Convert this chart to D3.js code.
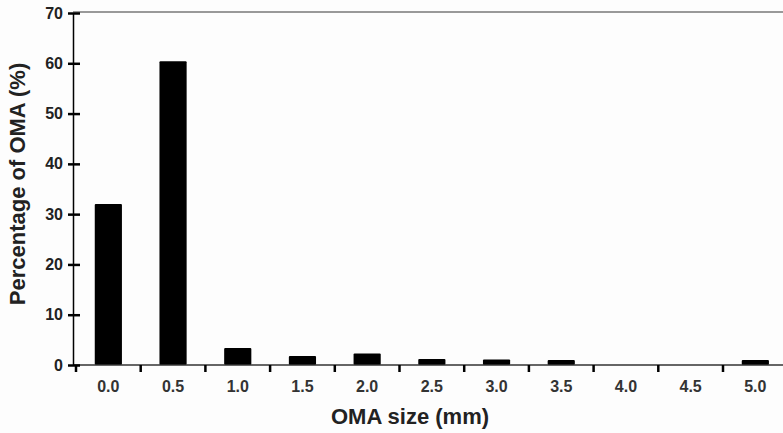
<!DOCTYPE html>
<html>
<head>
<meta charset="utf-8">
<script src="https://cdn.jsdelivr.net/npm/d3@7"></script>
<style>
  body { margin: 0; background: #fdfdfd; }
  svg { display: block; font-family: 'Liberation Sans', Arial, sans-serif; }
</style>
</head>
<body>
<svg id="chart" width="783" height="433"></svg>
<script>
// OMA size bins (mm) and share of OMA (%)
const sizes = ['0.0', '0.5', '1.0', '1.5', '2.0', '2.5', '3.0', '3.5', '4.0', '4.5', '5.0'];
const percents = [32.0, 60.4, 3.4, 1.8, 2.3, 1.2, 1.1, 1.0, 0, 0, 1.0];
const yTicks = [0, 10, 20, 30, 40, 50, 60, 70];

const w = 783;
const h = 433;
const padLeft = 73; // y axis position
const padTop = 13;
const baseY = 365; // x axis baseline

const svg = d3.select('#chart');

const xScale = d3.scaleBand()
  .domain(sizes)
  .range([padLeft + 3, padLeft + 3 + 64.7 * sizes.length])
  .paddingInner(0.58)
  .paddingOuter(0.29);

const yScale = d3.scaleLinear()
  .domain([0, 70])
  .range([baseY, padTop]);

// top frame line
svg.append('line')
  .attr('x1', padLeft).attr('x2', w)
  .attr('y1', padTop - 1).attr('y2', padTop - 1)
  .attr('stroke', '#777')
  .attr('stroke-width', 1.5);

// bars
svg.selectAll('rect.bar')
  .data(sizes.map((s, i) => ({ size: s, value: percents[i] })))
  .enter()
  .append('rect')
  .attr('class', 'bar')
  .attr('x', (d) => xScale(d.size))
  .attr('width', xScale.bandwidth())
  .attr('y', (d) => yScale(d.value))
  .attr('height', (d) => baseY - yScale(d.value))
  .attr('rx', 1)
  .style('fill', '#000');

// x axis: baseline, ticks between bars, labels under bars
const xg = svg.append('g').attr('id', 'x-axis');
xg.append('line')
  .attr('x1', padLeft).attr('x2', w)
  .attr('y1', baseY).attr('y2', baseY)
  .attr('stroke', '#333')
  .attr('stroke-width', 1.5);
xg.selectAll('line.sep')
  .data(sizes)
  .enter()
  .append('line')
  .attr('class', 'sep')
  .attr('x1', (d) => xScale(d) - xScale.step() * xScale.paddingOuter())
  .attr('x2', (d) => xScale(d) - xScale.step() * xScale.paddingOuter())
  .attr('y1', baseY)
  .attr('y2', baseY + 7)
  .attr('stroke', '#000')
  .attr('stroke-width', 2.5);
xg.selectAll('text')
  .data(sizes)
  .enter()
  .append('text')
  .attr('x', (d) => xScale(d) + xScale.bandwidth() / 2)
  .attr('y', 392)
  .attr('text-anchor', 'middle')
  .style('font-family', "'Liberation Sans', Arial, sans-serif")
  .style('font-size', '16px')
  .style('font-weight', 'bold')
  .style('fill', '#333')
  .text((d) => d);

// y axis
const yAxis = d3.axisLeft(yScale)
  .tickValues(yTicks)
  .tickSize(0)
  .tickPadding(10);
const yg = svg.append('g')
  .attr('id', 'y-axis')
  .attr('transform', `translate(${padLeft}, 0)`)
  .call(yAxis);
yg.attr('font-family', null).attr('font-size', null);
yg.select('.domain').attr('stroke', '#000').attr('stroke-width', 1.5);
yg.selectAll('.tick line').remove();
yg.selectAll('.tick')
  .append('line')
  .attr('x1', -5).attr('x2', 7)
  .attr('stroke', '#000')
  .attr('stroke-width', 2.5);
yg.selectAll('.tick text')
  .style('font-size', '16px')
  .style('font-weight', 'bold')
  .style('font-family', "'Liberation Sans', Arial, sans-serif")
  .style('fill', '#222');

// axis titles
svg.append('text')
  .attr('transform', 'rotate(-90)')
  .attr('x', -184)
  .attr('y', 25)
  .attr('text-anchor', 'middle')
  .style('font-family', "'Liberation Sans', Arial, sans-serif")
  .style('font-size', '22px')
  .style('font-weight', 'bold')
  .style('fill', '#222')
  .text('Percentage of OMA (%)');

svg.append('text')
  .attr('x', 410)
  .attr('y', 424)
  .attr('text-anchor', 'middle')
  .style('font-family', "'Liberation Sans', Arial, sans-serif")
  .style('font-size', '22px')
  .style('font-weight', 'bold')
  .style('fill', '#222')
  .text('OMA size (mm)');
</script>
</body>
</html>
